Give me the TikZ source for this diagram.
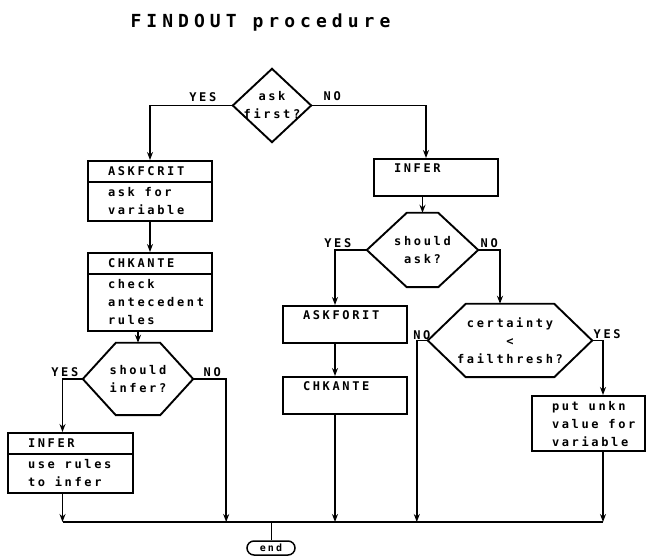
\documentclass[tikz,border=0pt]{standalone}
\usepackage{fontspec}
\newfontfamily\dotfont{DejaVu Sans Mono}[LetterSpace=22]
\newfontfamily\bigdotfont{DejaVu Sans Mono}[LetterSpace=28]
\newcommand\dottext{\dotfont\bfseries\fontsize{12}{18}\selectfont}
\usetikzlibrary{shapes.multipart,arrows.meta}

\begin{document}
\begin{tikzpicture}
[x=1pt, y=-1pt, font=\dottext]
\tikzstyle{box}=[draw, line width=1.9pt, text width=84pt, inner xsep=20pt, inner ysep=5pt, align=left, execute at begin node={\spaceskip=9.8pt\relax}]
\tikzstyle{splitbox}=[box, rectangle split, rectangle split parts=2]
\tikzstyle{tall}=[text height=9pt, text depth=18pt]
\tikzstyle{test}=[inner sep=0pt, align=center]
\tikzstyle{answer}=[inner sep=0pt]
\tikzstyle{stop}=[draw, line width=1.5pt, rounded corners=7pt, minimum width=48pt, minimum height=14pt, inner sep=0pt, font=\dotfont\bfseries\fontsize{10}{12}\selectfont]
\tikzstyle{outline}=[line width=1.9pt]
\tikzstyle{flow}=[line width=1.7pt, -{Stealth[length=8pt,width=6pt]}]
\useasboundingbox (0,0) rectangle (649,556);

\node[anchor=west, font=\bigdotfont\bfseries\fontsize{18}{20}\selectfont] (title) at (127,23) {FINDOUT procedure};

% first question
\node[test, minimum width=78pt, minimum height=73pt] (ask) at (272,105.5) {ask\\first?};
\draw[outline] (ask.north) -- (ask.east) -- (ask.south) -- (ask.west) -- cycle;

% left column
\node[splitbox, anchor=north] (askfcrit) at (150,160) {ASKFCRIT \nodepart{two} \mbox{ask for}\\variable};
\node[splitbox, anchor=north] (chkante) at (150,252) {CHKANTE \nodepart{two} check\\antecedent\\rules};
\node[test, minimum width=110pt, minimum height=72pt] (shinfer) at (138,379) {should\\infer?};
\draw[outline] (shinfer.west) -- ([xshift=33pt]shinfer.north west) -- ([xshift=-33pt]shinfer.north east) -- (shinfer.east) -- ([xshift=-33pt]shinfer.south east) -- ([xshift=33pt]shinfer.south west) -- cycle;
\node[splitbox, anchor=north, text width=85pt] (inferL) at (70.5,432) {INFER \nodepart{two} \mbox{use rules}\\\mbox{to infer}};

% right column
\node[box, tall, anchor=north] (inferR) at (436,158) {INFER};
\node[test, minimum width=111pt, minimum height=74pt] (shask) at (422.5,250) {should\\ask?};
\draw[outline] (shask.west) -- ([xshift=40pt]shask.north west) -- ([xshift=-40pt]shask.north east) -- (shask.east) -- ([xshift=-40pt]shask.south east) -- ([xshift=40pt]shask.south west) -- cycle;
\node[box, tall, anchor=north] (askforit) at (345,305) {ASKFORIT};
\node[box, tall, anchor=north] (chkante2) at (345,376) {CHKANTE};
\node[test, minimum width=164pt, minimum height=73pt] (cert) at (510,340.5) {certainty\\<\\failthresh?};
\draw[outline] (cert.west) -- ([xshift=38pt]cert.north west) -- ([xshift=-38pt]cert.north east) -- (cert.east) -- ([xshift=-38pt]cert.south east) -- ([xshift=38pt]cert.south west) -- cycle;
\node[box, anchor=north, text width=73pt] (unkn) at (588.5,395) {\mbox{put unkn}\\\mbox{value for}\\variable};

\node[stop] (end) at (271,548) {end};
\coordinate (bus) at (0,522);

% answers
\node[answer] (yes1) at ([xshift=-30pt,yshift=8pt]ask.west) {YES};
\node[answer] (no1) at ([xshift=21pt,yshift=9pt]ask.east) {NO};
\node[answer] (yes2) at ([xshift=-29pt,yshift=7pt]shask.west) {YES};
\node[answer] (no2) at ([xshift=11pt,yshift=7pt]shask.east) {NO};
\node[answer] (yes3) at ([xshift=-18pt,yshift=7pt]shinfer.west) {YES};
\node[answer] (no3) at ([xshift=19pt,yshift=7pt]shinfer.east) {NO};
\node[answer] (no4) at ([xshift=-6pt,yshift=5pt]cert.west) {NO};
\node[answer] (yes4) at ([xshift=15pt,yshift=6pt]cert.east) {YES};

% flow
\draw[flow] (ask.west) -| (askfcrit.north);
\draw[flow] (ask.east) -| ([xshift=-10pt]inferR.north);
\draw[flow] (askfcrit.south) -- (chkante.north);
\draw[flow] (shinfer.north |- chkante.south) -- (shinfer.north);
\draw[flow] (shinfer.west) -| ([xshift=-8pt]inferL.north);
\draw[flow] (shinfer.east) -| ([xshift=33pt]shinfer.east |- bus);
\draw[flow] ([xshift=-8pt]inferL.south) -- ([xshift=-8pt]inferL.south |- bus);
\draw[flow] (shask.north |- inferR.south) -- (shask.north);
\draw[flow] (shask.west) -| ([xshift=-10pt]askforit.north);
\draw[flow] (shask.east) -| ([xshift=-10pt]cert.north);
\draw[flow] ([xshift=-10pt]askforit.south) -- ([xshift=-10pt]chkante2.north);
\draw[flow] ([xshift=-10pt]chkante2.south) -- ([xshift=-10pt]chkante2.south |- bus);
\draw[flow] (cert.west) -| ([xshift=-11pt]cert.west |- bus);
\draw[flow] (cert.east) -| ([xshift=14.5pt]unkn.north);
\draw[flow] ([xshift=14.5pt]unkn.south) -- ([xshift=14.5pt]unkn.south |- bus);
\draw[outline] ([xshift=-8pt]inferL.south |- bus) -- ([xshift=14.5pt]unkn.south |- bus);
\draw[line width=1pt] (end.north |- bus) -- (end.north);
\end{tikzpicture}
\end{document}
